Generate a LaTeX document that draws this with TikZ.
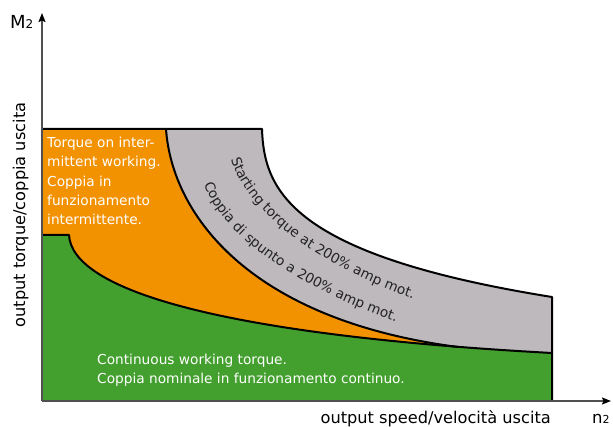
\documentclass[tikz,border=0pt]{standalone}
\usepackage{fontspec}
\setmainfont{DejaVu Sans}
\usetikzlibrary{arrows.meta,decorations.text}

\definecolor{arancio}{RGB}{243,146,0}
\definecolor{grigio}{RGB}{189,185,189}
\definecolor{verde}{RGB}{67,160,46}
\definecolor{assegrigio}{RGB}{80,80,80}
\definecolor{scritta}{RGB}{35,35,35}

\newcommand{\testo}{\fontsize{13.7}{19.3}\selectfont}
\newcommand{\assetesto}{\fontsize{16.2}{19}\selectfont}

\begin{document}
\begin{tikzpicture}[
    x=1pt, y=-1pt,
    asse/.style={
      draw=assegrigio,
      line width=1.5pt,
      -{Stealth[black, length=9pt, width=7pt, inset=1.5pt]}},
    bordo/.style={
      draw=black,
      line width=2pt,
      line join=round},
    bianco/.style={
      text=white,
      font=\testo,
      align=left,
      inner sep=0pt},
    etichetta/.style={
      font=\assetesto,
      inner sep=0pt}
    ]

  \useasboundingbox (0,0) rectangle (613,427);

  \coordinate (origine) at (42,401);
  \coordinate (cima) at (42,13);
  \coordinate (destra) at (611,401);

  % zone
  \fill[grigio] (42,129) -- (262,129) .. controls (264,190) and (290,255) .. (552,297)
      -- (552,401) -- (42,401) -- cycle;
  \fill[arancio] (42,129) -- (166,129) .. controls (172,215) and (250,320) .. (458,347)
      -- (458,401) -- (42,401) -- cycle;
  \fill[verde] (42,235) -- (69,235) .. controls (72,290) and (220,335) .. (552,353)
      -- (552,401) -- (42,401) -- cycle;

  % bordi
  \draw[bordo] (42,129) -- (262,129) .. controls (264,190) and (290,255) .. (552,297) -- (552,401);
  \draw[bordo] (166,129) .. controls (172,215) and (250,320) .. (458,347);
  \draw[bordo] (42,235) -- (69,235) .. controls (72,290) and (220,335) .. (552,353);

  % assi
  \draw[asse] (origine) -- (cima);
  \draw[asse] (origine) -- (destra);

  \node at (10,29) (emme) [etichetta, anchor=base west, font=\fontsize{18}{20}\selectfont] {M{\fontsize{12}{14}\selectfont 2}};
  \node at (592,423) (enne) [etichetta, anchor=base west, font=\fontsize{16.5}{18}\selectfont] {n{\fontsize{11}{13}\selectfont 2}};
  \node at (551,423) (velocita) [etichetta, anchor=base east] {output speed/velocità uscita};
  \node at (25,215) (coppia) [etichetta, anchor=base, rotate=90] {output torque/coppia uscita};

  \node at (47,137) (intermittente) [bianco, anchor=north west]
    {Torque on inter-\\mittent working.\\Coppia in\\funzionamento\\intermittente.};
  \node at (97,354) (continua) [bianco, anchor=north west]
    {Continuous working torque.\\Coppia nominale in funzionamento continuo.};

  % scritte lungo la curva
  \path[decorate, decoration={text along path, text align=left, text color=scritta,
      text={|\testo|Starting torque at 200{\%} amp mot.}}]
    (231,159) .. controls (246,209) and (312,267) .. (442,309);
  \path[decorate, decoration={text along path, text align=left, text color=scritta,
      text={|\testo|Coppia di spunto a 200{\%} amp mot.}}]
    (204,184) .. controls (221,234) and (296,291) .. (426,332);

\end{tikzpicture}
\end{document}
